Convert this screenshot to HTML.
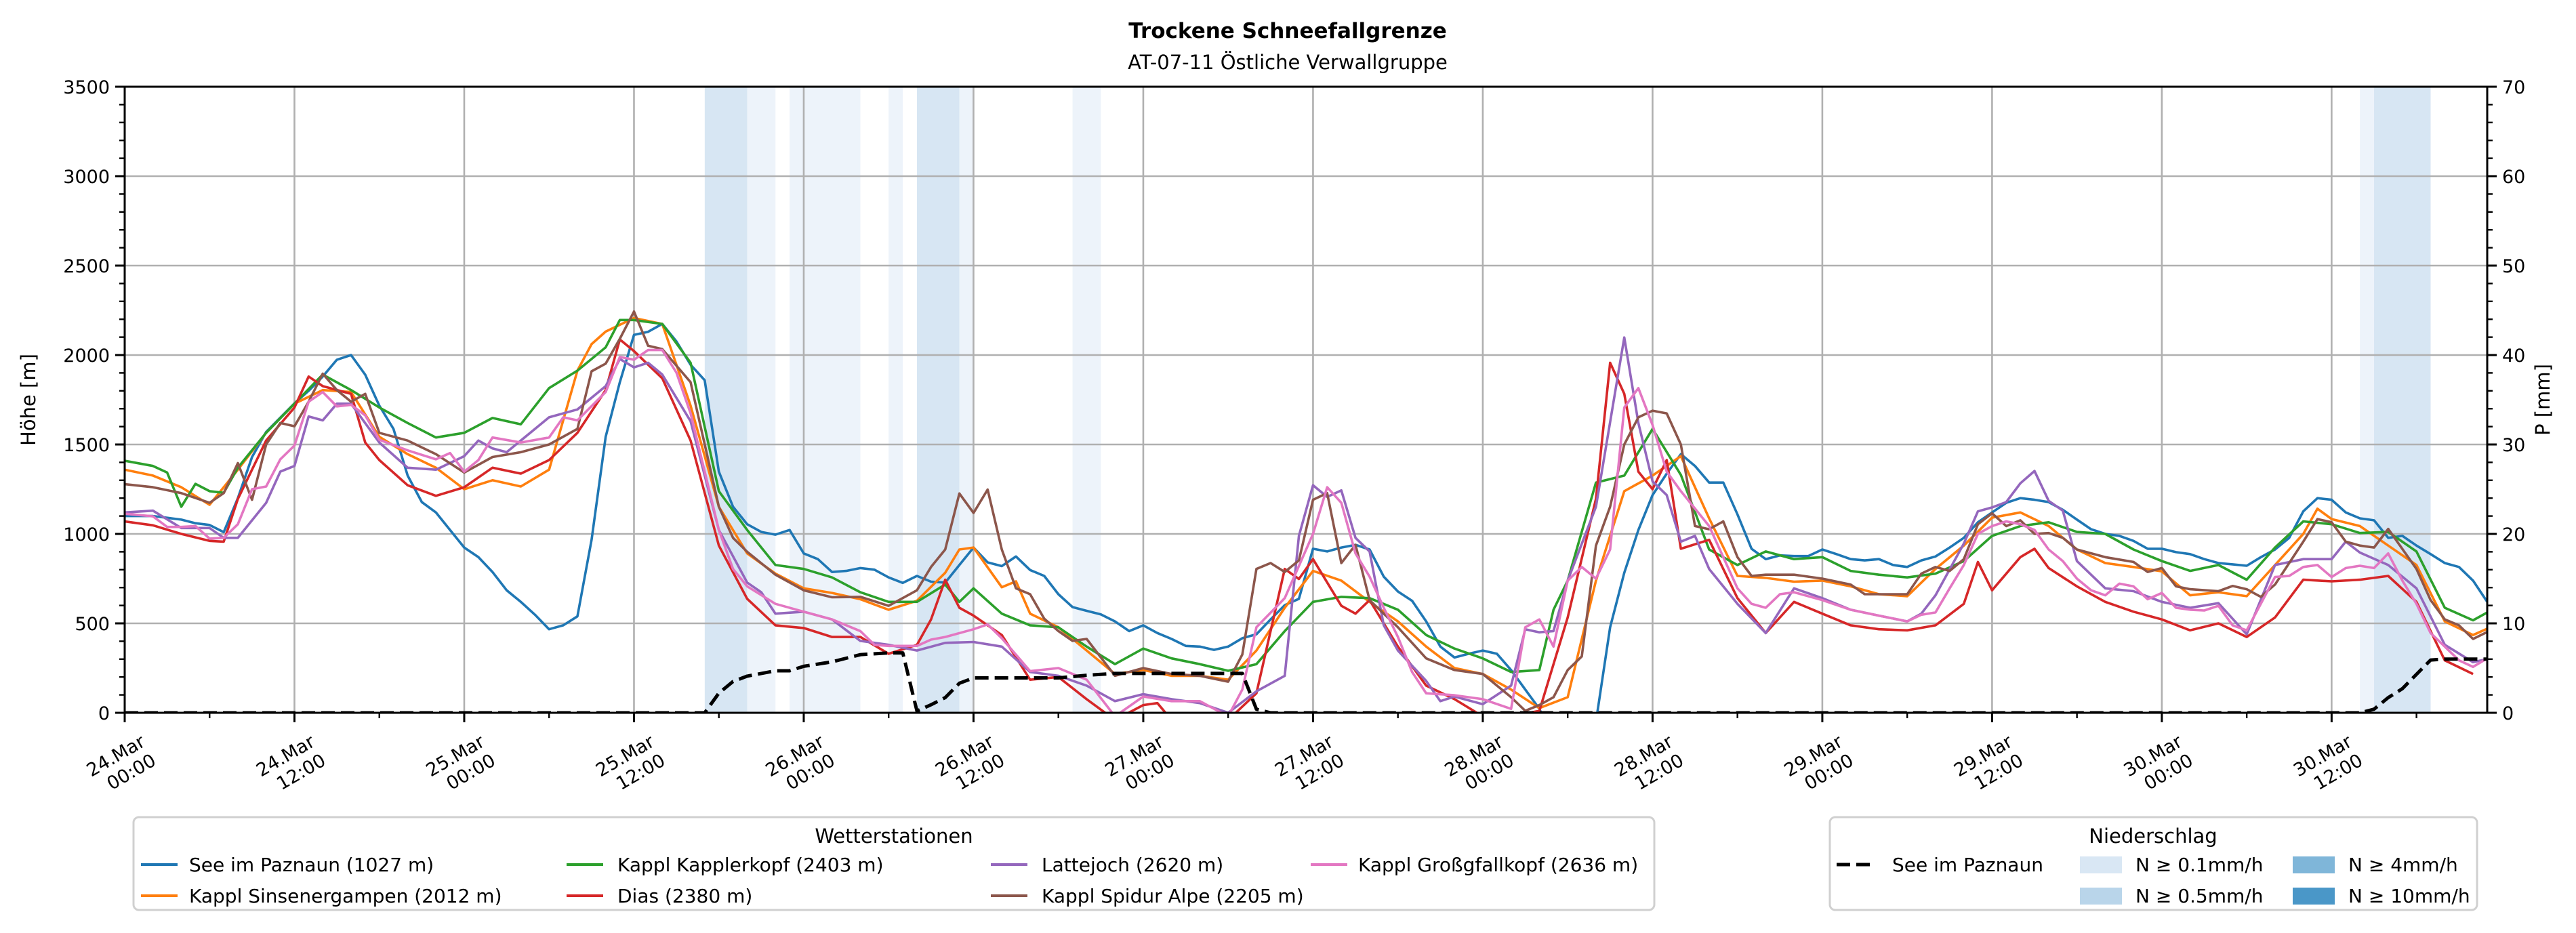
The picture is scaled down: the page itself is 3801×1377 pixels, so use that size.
<!DOCTYPE html>
<html><head><meta charset="utf-8"><style>
html,body{margin:0;padding:0;background:#fff;}
svg{display:block;font-family:"DejaVu Sans","Liberation Sans",sans-serif;}
</style></head><body>
<svg id="chart" width="3801" height="1377" viewBox="0 0 3801 1377" xmlns="http://www.w3.org/2000/svg">
<rect x="0" y="0" width="3801" height="1377" fill="#fff"/>
<text x="1900" y="56" font-size="31" font-weight="bold" text-anchor="middle">Trockene Schneefallgrenze</text>
<text x="1900" y="102" font-size="29" text-anchor="middle">AT-07-11 Östliche Verwallgruppe</text>
<g id="bands"></g>
<g id="grid"></g>
<defs><clipPath id="plotclip"><rect x="184" y="128" width="3486" height="924"/></clipPath></defs>
<g id="series" clip-path="url(#plotclip)"></g>
<g id="axes"></g>
<text transform="translate(52,590) rotate(-90)" font-size="29" text-anchor="middle">Höhe [m]</text>
<text transform="translate(3762,590) rotate(-90)" font-size="29" text-anchor="middle">P [mm]</text>

<g>
<rect x="197" y="1206" width="2244" height="137" rx="8" fill="#fff" stroke="#d0d0d0" stroke-width="3"/>
<text x="1319" y="1244" font-size="29" text-anchor="middle">Wetterstationen</text>
<g><line x1="208" y1="1276" x2="262" y2="1276" stroke="#1f77b4" stroke-width="4"/><text x="279" y="1286" font-size="28">See im Paznaun (1027 m)</text></g>
<g><line x1="208" y1="1322" x2="262" y2="1322" stroke="#ff7f0e" stroke-width="4"/><text x="279" y="1332" font-size="28">Kappl Sinsenergampen (2012 m)</text></g>
<g><line x1="836" y1="1276" x2="890" y2="1276" stroke="#2ca02c" stroke-width="4"/><text x="911" y="1286" font-size="28">Kappl Kapplerkopf (2403 m)</text></g>
<g><line x1="836" y1="1322" x2="890" y2="1322" stroke="#d62728" stroke-width="4"/><text x="911" y="1332" font-size="28">Dias (2380 m)</text></g>
<g><line x1="1462" y1="1276" x2="1516" y2="1276" stroke="#9467bd" stroke-width="4"/><text x="1537" y="1286" font-size="28">Lattejoch (2620 m)</text></g>
<g><line x1="1462" y1="1322" x2="1516" y2="1322" stroke="#8c564b" stroke-width="4"/><text x="1537" y="1332" font-size="28">Kappl Spidur Alpe (2205 m)</text></g>
<g><line x1="1934" y1="1276" x2="1988" y2="1276" stroke="#e377c2" stroke-width="4"/><text x="2004" y="1286" font-size="28">Kappl Großgfallkopf (2636 m)</text></g>
</g>

<g>
<rect x="2700" y="1206" width="955" height="137" rx="8" fill="#fff" stroke="#d0d0d0" stroke-width="3"/>
<text x="3177" y="1244" font-size="29" text-anchor="middle">Niederschlag</text>
<g><line x1="2710" y1="1276" x2="2764" y2="1276" stroke="#000" stroke-width="5" stroke-dasharray="20,9"/><text x="2792" y="1286" font-size="28">See im Paznaun</text></g>
<g><rect x="3069" y="1264" width="62" height="25" fill="#d9e7f4"/><text x="3151" y="1286" font-size="28">N ≥ 0.1mm/h</text></g>
<g><rect x="3069" y="1310" width="62" height="25" fill="#b9d5ea"/><text x="3151" y="1332" font-size="28">N ≥ 0.5mm/h</text></g>
<g><rect x="3383" y="1264" width="62" height="25" fill="#7fb6d9"/><text x="3465" y="1286" font-size="28">N ≥ 4mm/h</text></g>
<g><rect x="3383" y="1310" width="62" height="25" fill="#4a97c8"/><text x="3465" y="1332" font-size="28">N ≥ 10mm/h</text></g>
</g>
</svg>
<script>
// ---- data ----
const xTickHours = [0,12,24,36,48,60,72,84,96,108,120,132,144,156];
const xTickDates = ["24.Mar","24.Mar","25.Mar","25.Mar","26.Mar","26.Mar","27.Mar","27.Mar","28.Mar","28.Mar","29.Mar","29.Mar","30.Mar","30.Mar"];
const xTickTimes = ["00:00","12:00","00:00","12:00","00:00","12:00","00:00","12:00","00:00","12:00","00:00","12:00","00:00","12:00"];
const yTicks = [0,500,1000,1500,2000,2500,3000,3500];
const y2Ticks = [0,10,20,30,40,50,60,70];

const bandStart = [41,44,47,54,56,59,67,158,159];
const bandEnd   = [44,46,52,55,59,60,69,159,163];
const bandLevel = [1,0,0,0,1,0,0,0,1];

const seeValues = [1100,1100,1100,1090,1080,1060,1050,1010,1200,1430,1570,1650,1730,1800,1880,1974,2000,1890,1717,1587,1326,1178,1120,1022,924,870,787,685,620,548,467,489,539,967,1543,1848,2113,2130,2174,2076,1946,1859,1348,1152,1054,1011,996,1022,891,859,787,793,809,800,757,726,765,733,728,826,924,841,820,874,798,765,663,591,570,550,511,457,489,446,413,374,370,352,370,417,439,522,602,637,917,902,924,939,913,761,678,626,511,370,309,330,348,330,239,130,22,-150,-400,-600,-50,478,783,1022,1217,1337,1446,1380,1287,1287,1109,917,859,880,876,876,913,887,859,852,859,826,815,852,874,924,978,1065,1120,1174,1200,1191,1178,1135,1080,1026,1000,989,961,917,917,898,887,859,837,830,822,870,913,978,1126,1200,1191,1120,1087,1076,978,989,935,887,837,815,739,620];

const greenHours = [0,2,3,4,5,6,7,8,10,12,14,16,18,20,22,24,26,28,30,32,34,35,36,38,40,42,44,46,48,50,52,54,56,58,59,60,62,64,66,68,70,72,74,76,78,80,82,84,86,88,90,92,94,96,98,100,101,102,104,106,108,110,112,114,116,118,120,122,124,126,128,130,132,134,136,138,140,142,144,146,148,150,152,154,156,158,160,162,164,166,167];
const greenValues = [1409,1380,1343,1152,1280,1239,1230,1370,1565,1728,1891,1804,1707,1620,1539,1565,1648,1613,1815,1913,2043,2196,2196,2174,1957,1239,1022,826,804,757,674,620,620,717,620,696,554,489,478,370,272,359,304,272,235,272,457,620,648,641,576,435,359,304,228,239,576,739,1287,1326,1587,1330,913,826,902,859,870,793,772,757,778,848,989,1044,1065,1011,1000,913,848,793,826,744,924,1070,1054,1005,1011,902,587,517,561];

const orangeHours = [0,2,4,6,8,10,12,14,16,18,20,22,24,26,28,30,32,33,34,36,38,40,42,44,46,48,50,52,54,56,58,59,60,62,63,64,66,68,70,72,74,76,78,80,82,84,86,88,90,92,94,96,98,100,102,104,106,108,110,112,114,116,118,120,122,124,126,128,130,132,134,136,138,140,142,144,146,148,150,152,154,155,156,158,160,162,164,166,167];
const orangeValues = [1359,1326,1261,1163,1359,1565,1728,1804,1793,1543,1446,1370,1250,1300,1265,1359,1913,2061,2131,2207,2174,1717,1152,891,778,696,670,635,576,626,783,913,924,702,735,554,478,348,217,239,207,207,185,348,587,793,739,620,511,370,250,217,130,26,87,739,1239,1326,1435,1087,765,754,733,739,707,663,652,804,935,1091,1120,1044,913,837,815,791,657,674,652,826,1000,1141,1083,1044,935,826,511,435,470];

const redHours = [0,2,4,6,7,8,10,12,13,14,16,17,18,20,22,24,26,28,30,32,34,35,36,38,40,42,44,46,48,50,52,54,56,57,58,59,60,62,64,66,68,70,72,73,74,78,80,82,83,84,86,87,88,90,92,94,96,98,100,102,104,105,106,107,108,109,110,112,114,116,118,120,122,124,126,128,130,131,132,134,135,136,138,140,142,144,146,148,150,152,154,156,158,160,162,164,166];
const redValues = [1070,1048,1000,961,957,1196,1522,1707,1880,1826,1783,1511,1413,1272,1213,1261,1370,1337,1413,1565,1804,2087,2022,1870,1522,935,637,489,474,424,424,330,380,522,744,587,543,435,185,200,76,-40,43,54,-40,-40,109,804,748,859,598,554,630,370,152,76,-20,-20,11,533,1196,1957,1783,1348,1250,1413,917,967,641,446,620,554,489,467,461,489,609,843,685,870,917,809,707,620,565,522,461,500,424,533,744,735,744,765,620,293,217];

const purpleHours = [0,2,4,6,7,8,10,11,12,13,14,15,16,18,20,22,24,25,26,27,28,30,32,34,35,36,37,38,40,42,44,45,46,48,50,52,54,56,58,60,62,64,66,68,70,72,74,76,78,80,82,83,84,85,86,87,88,89,90,92,93,94,96,98,99,100,101,102,104,106,107,108,109,110,111,112,114,116,118,120,122,124,126,127,128,130,131,132,133,134,135,136,137,138,140,142,144,146,148,150,152,154,156,157,158,160,162,164,166,167];
const purpleValues = [1120,1130,1033,1033,978,978,1174,1348,1380,1657,1635,1728,1728,1511,1370,1359,1435,1522,1478,1457,1522,1652,1696,1826,1978,1931,1957,1891,1630,1022,728,674,554,565,522,402,380,348,391,396,370,228,207,152,65,104,76,54,0,120,207,989,1272,1207,1243,978,902,489,348,178,65,91,48,152,467,450,457,739,1152,2098,1620,1294,1217,957,989,804,609,446,696,641,576,543,511,554,657,946,1126,1148,1178,1283,1352,1185,1130,848,696,680,620,587,613,439,826,859,859,957,896,826,696,380,283,300];

const brownHours = [0,2,4,6,7,8,9,10,11,12,13,14,15,16,17,18,20,22,24,26,28,30,32,33,34,35,36,37,38,40,42,43,44,46,48,50,52,54,56,57,58,59,60,61,62,63,64,65,66,67,68,70,72,74,76,78,79,80,81,82,83,84,85,86,87,88,90,92,94,96,98,99,100,101,102,103,104,105,106,107,108,109,110,111,112,113,114,115,116,118,120,122,123,126,127,128,129,130,131,132,133,134,135,136,137,138,140,142,143,144,145,146,148,149,150,151,152,154,155,156,157,158,159,160,162,163,164,165,166,167];
const brownValues = [1278,1261,1228,1174,1228,1396,1191,1500,1620,1602,1739,1896,1804,1739,1783,1565,1522,1446,1343,1430,1457,1500,1587,1909,1952,2091,2243,2052,2033,1848,1152,978,900,772,685,646,648,598,685,815,913,1226,1117,1248,913,696,663,526,457,402,413,207,250,217,207,174,326,804,837,787,852,1191,1228,837,939,630,478,304,239,217,87,11,43,87,239,315,935,1152,1500,1652,1689,1674,1500,1044,1026,1070,870,765,772,772,750,717,663,663,778,815,793,859,1054,1115,1044,1076,1000,1005,978,913,870,843,787,809,707,691,680,709,691,648,717,957,1083,1065,957,935,924,1028,804,630,522,489,413,452];

const pinkHours = [0,2,3,4,5,6,7,8,9,10,11,12,13,14,15,16,17,18,20,22,23,24,25,26,28,30,31,32,34,35,36,37,38,39,40,42,43,44,46,48,50,52,53,54,56,57,58,60,61,62,64,66,68,70,72,74,76,78,79,80,82,84,85,86,87,88,89,90,91,92,94,96,98,99,100,101,102,103,104,105,106,107,108,109,110,112,114,115,116,117,118,120,122,124,126,127,128,129,130,131,132,133,134,135,136,137,138,139,140,141,142,143,144,145,146,147,148,149,150,152,153,154,155,156,157,158,159,160,161,162,163,164,165,166,167];
const pinkValues = [1113,1098,1039,1039,1044,974,978,1054,1250,1265,1417,1494,1739,1793,1713,1722,1663,1526,1467,1417,1452,1348,1413,1539,1511,1539,1652,1635,1793,1989,1974,2028,2028,1902,1674,1022,804,707,609,565,522,457,380,374,374,409,424,467,494,417,233,250,185,-20,91,65,65,-20,130,478,641,1000,1261,1174,891,761,587,424,228,109,98,76,22,478,522,370,739,815,750,913,1707,1815,1609,1348,1239,1044,696,609,587,663,674,630,576,543,511,548,561,696,826,1000,1044,1070,1054,1022,913,848,750,685,657,722,707,635,670,587,576,572,598,489,461,759,765,815,826,759,809,822,809,891,739,609,446,370,293,257,304];

const precipHours = [0,41,42,43,44,46,47,48,50,52,54,55,56,57,58,59,60,62,64,66,68,70,72,74,76,78,79,80,81,158,159,160,161,162,163,164,167];
const precipValues = [0,0,2.2,3.5,4.1,4.7,4.7,5.2,5.7,6.5,6.7,6.7,0.2,0.9,1.7,3.3,3.9,3.9,3.9,3.9,4.2,4.4,4.4,4.4,4.4,4.4,4.4,0.4,0,0,0.4,1.7,2.7,4.3,5.9,6.0,6.0];

// ---- scales ----
const L=184,R=3670,T=128,B=1052,XMAX=167;
const x = h => L + h*(R-L)/XMAX;
const y = m => B - m*(B-T)/3500;
const y2 = p => B - p*(B-T)/70;
const NS="http://www.w3.org/2000/svg";
function mk(tag, attrs, parent){const e=document.createElementNS(NS,tag);for(const k in attrs)e.setAttribute(k,attrs[k]);parent.appendChild(e);return e;}

// bands
const bandsG=document.getElementById('bands');
const bandColors=["#edf3fa","#d7e6f3"];
bandStart.forEach((s,i)=>{
  const r=mk('rect',{x:x(s),y:T,width:x(bandEnd[i])-x(s),height:B-T,fill:bandColors[bandLevel[i]]},bandsG);
  
  
});

// grid
const gridG=document.getElementById('grid');
yTicks.forEach(v=>{const l=mk('line',{x1:L,x2:R,y1:y(v),y2:y(v),stroke:'#b0b0b0','stroke-width':2.6},gridG);
  
  });
xTickHours.forEach(h=>{const l=mk('line',{x1:x(h),x2:x(h),y1:T,y2:B,stroke:'#b0b0b0','stroke-width':2.6},gridG);
  
  });

// series
const seriesG=document.getElementById('series');
function drawLine(hours, vals, color, name, dash, yf){
  const pts=hours.map((h,i)=>x(h).toFixed(1)+','+yf(vals[i]).toFixed(1)).join(' ');
  const p=mk('polyline',{points:pts,fill:'none',stroke:color,'stroke-width':dash?5:3.6,'stroke-linejoin':'round'},seriesG);
  if(dash)p.setAttribute('stroke-dasharray','20,9');
  
  
}
const seeHours=seeValues.map((v,i)=>i);
drawLine(seeHours,seeValues,'#1f77b4','line-see-im-paznaun',false,y);
drawLine(orangeHours,orangeValues,'#ff7f0e','line-kappl-sinsenergampen',false,y);
drawLine(greenHours,greenValues,'#2ca02c','line-kappl-kapplerkopf',false,y);
drawLine(redHours,redValues,'#d62728','line-dias',false,y);
drawLine(purpleHours,purpleValues,'#9467bd','line-lattejoch',false,y);
drawLine(brownHours,brownValues,'#8c564b','line-kappl-spidur-alpe',false,y);
drawLine(pinkHours,pinkValues,'#e377c2','line-kappl-grossgfallkopf',false,y);
drawLine(precipHours,precipValues,'#000','line-precip-see-im-paznaun',true,y2);

// axes
const ax=document.getElementById('axes');
const frame=mk('rect',{x:L,y:T,width:R-L,height:B-T,fill:'none',stroke:'#000','stroke-width':3},ax);


for(let m=0;m<=3500;m+=100){const major=m%500===0;const len=major?14:8;
  mk('line',{x1:L-len,x2:L,y1:y(m),y2:y(m),stroke:'#000','stroke-width':major?3:2.4},ax);
  mk('line',{x1:R,x2:R+len,y1:y(m),y2:y(m),stroke:'#000','stroke-width':major?3:2.4},ax);}
yTicks.forEach(v=>{const t=mk('text',{x:L-22,y:y(v)+10,'font-size':27,'text-anchor':'end'},ax);t.textContent=v;
  
  });
y2Ticks.forEach(v=>{const t=mk('text',{x:R+22,y:y2(v)+10,'font-size':27,'text-anchor':'start'},ax);t.textContent=v;
  
  });
for(let h=0;h<=XMAX;h+=6){const major=h%12===0;
  mk('line',{x1:x(h),x2:x(h),y1:B,y2:B+(major?14:8),stroke:'#000','stroke-width':major?3:2.4},ax);}
xTickHours.forEach((h,i)=>{
  const g=mk('g',{transform:`translate(${x(h)+32},${B+48}) rotate(-30)`},ax);
  
  
  const t1=mk('text',{x:0,y:0,'font-size':27,'text-anchor':'end'},g);t1.textContent=xTickDates[i];
  const t2=mk('text',{x:0,y:32,'font-size':27,'text-anchor':'end'},g);t2.textContent=xTickTimes[i];
});
</script>
</body></html>
